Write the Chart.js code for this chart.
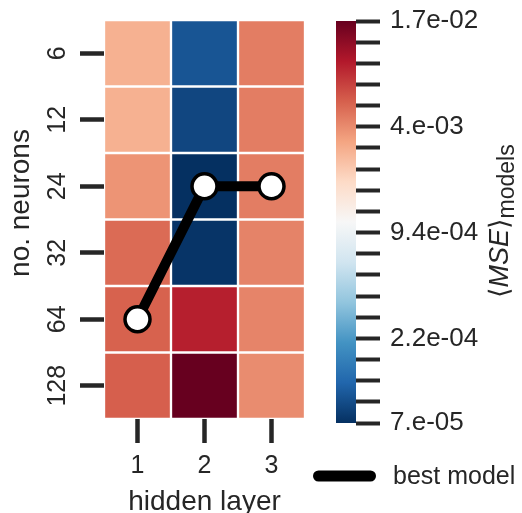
<!DOCTYPE html>
<html>
<head>
<meta charset="utf-8">
<script src="https://cdn.jsdelivr.net/npm/chart.js@4.4.1/dist/chart.umd.min.js"></script>
<style>
  html, body { margin: 0; padding: 0; background: #fff; }
  #wrap { position: relative; width: 522px; height: 513px; overflow: hidden; }
  #heat { position: absolute; left: 0; top: 0; }
  #cbar { position: absolute; left: 305px; top: 0; }
</style>
</head>
<body>
<div id="wrap">
  <canvas id="heat" width="305" height="513"></canvas>
  <canvas id="cbar" width="217" height="513"></canvas>
</div>
<script>
// ─── Data ─────────────────────────────────────────────────────────────────────

const layers = ["1", "2", "3"];
const neurons = ["6", "12", "24", "32", "64", "128"];

// <MSE> over models, one array per hidden-layer count, rows follow `neurons`
const mseLayer1 = [2.9e-3, 2.9e-3, 3.75e-3, 5.2e-3, 5.6e-3, 5.7e-3];
const mseLayer2 = [1.02e-4, 8.8e-5, 7.0e-5, 7.3e-5, 9.3e-3, 1.7e-2];
const mseLayer3 = [4.5e-3, 4.5e-3, 4.5e-3, 4.3e-3, 4.25e-3, 4.0e-3];

// best model: neuron count chosen for each hidden-layer count
const bestNeurons = ["64", "24", "24"];

const cbarMin = 7e-5;
const cbarMax = 1.7e-2;
// colorbar tick labels, bottom to top (20 ticks, log spaced)
const cbarTickLabels = [
  "7.e-05", "", "", "", "2.2e-04", "", "", "", "", "9.4e-04",
  "", "", "", "", "4.e-03", "", "", "", "", "1.7e-02",
];

// ─── Style ────────────────────────────────────────────────────────────────────

const FONT = "'Liberation Sans', Arial, 'DejaVu Sans', sans-serif";
const INK = "#262626";

// matplotlib RdBu_r anchor colours
const RDBU_R = [
  "#053061", "#2166ac", "#4393c3", "#92c5de", "#d1e5f0", "#f7f7f7",
  "#fddbc7", "#f4a582", "#d6604d", "#b2182b", "#67001f",
];

function hexToRgb(h) {
  return [1, 3, 5].map(i => parseInt(h.slice(i, i + 2), 16));
}

function cmap(f) {
  f = Math.max(0, Math.min(1, f));
  const p = f * 10;
  const i = Math.min(9, Math.floor(p));
  const t = p - i;
  const a = hexToRgb(RDBU_R[i]);
  const b = hexToRgb(RDBU_R[i + 1]);
  const c = a.map((v, k) => Math.round(v + (b[k] - v) * t));
  return `rgb(${c[0]}, ${c[1]}, ${c[2]})`;
}

function colorFor(v) {
  const lo = Math.log10(cbarMin), hi = Math.log10(cbarMax);
  return cmap((Math.log10(v) - lo) / (hi - lo));
}

// ─── Heatmap ──────────────────────────────────────────────────────────────────

const mse = [mseLayer1, mseLayer2, mseLayer3];

const rowSets = neurons.map((n, i) => ({
  type: "bar",
  label: n,
  data: layers.map(() => [i, i + 1]),
  backgroundColor: mse.map(col => colorFor(col[i])),
  borderColor: "#ffffff",
  borderWidth: 1.5,
  borderSkipped: false,
  grouped: false,
  barPercentage: 1,
  categoryPercentage: 1,
  order: 2,
}));

const bestLine = {
  type: "line",
  label: "best model",
  data: bestNeurons.map(n => neurons.indexOf(n) + 0.5),
  borderColor: "#000000",
  borderWidth: 10,
  pointRadius: 12.5,
  pointBackgroundColor: "#ffffff",
  pointBorderColor: "#000000",
  pointBorderWidth: 3.5,
  tension: 0,
  clip: false,
  order: 1,
};

const tickGrid = {
  display: true,
  drawOnChartArea: false,
  drawTicks: true,
  offset: false,
  tickLength: 24,
  tickWidth: 4.5,
  tickColor: INK,
};

// y title drawn by hand so it can sit where the reference has it
const yTitle = {
  id: "yTitle",
  afterDraw(chart) {
    const { ctx } = chart;
    ctx.save();
    ctx.translate(21, 203);
    ctx.rotate(-Math.PI / 2);
    ctx.font = `28px ${FONT}`;
    ctx.fillStyle = INK;
    ctx.textAlign = "center";
    ctx.textBaseline = "middle";
    ctx.fillText("no. neurons", 0, 0);
    ctx.restore();
  },
};

new Chart(document.getElementById("heat"), {
  type: "bar",
  data: { labels: layers, datasets: [...rowSets, bestLine] },
  options: {
    responsive: false,
    animation: false,
    layout: { autoPadding: false, padding: { top: 20, right: 0, left: 0, bottom: 0 } },
    plugins: { legend: { display: false }, tooltip: { enabled: false } },
    scales: {
      x: {
        type: "category",
        offset: true,
        grid: tickGrid,
        border: { display: false },
        ticks: { color: INK, font: { family: FONT, size: 25 }, padding: 8 },
        title: {
          display: true,
          text: "hidden layer",
          color: INK,
          font: { family: FONT, size: 28, lineHeight: 1 },
          padding: { top: 0, bottom: -3 },
        },
        afterFit: s => {
          s.height = 94;
          s.paddingLeft = 0;
          s.paddingRight = 0;
        },
      },
      y: {
        type: "linear",
        min: 0,
        max: 6,
        reverse: true,
        afterBuildTicks: s => { s.ticks = neurons.map((_, i) => ({ value: i + 0.5 })); },
        grid: tickGrid,
        border: { display: false },
        ticks: {
          callback: (v, i) => neurons[i],
          minRotation: 90,
          maxRotation: 90,
          crossAlign: "center",
          autoSkip: false,
          color: INK,
          font: { family: FONT, size: 25 },
          padding: 1,
        },
        afterFit: s => {
          s.width = 104;
          s.paddingTop = 0;
          s.paddingBottom = 0;
        },
      },
    },
  },
  plugins: [yTitle],
});

// ─── Colorbar + legend ────────────────────────────────────────────────────────

const cbarTitle = {
  id: "cbarTitle",
  afterDraw(chart) {
    const { ctx } = chart;
    ctx.save();
    ctx.translate(508 - 305, 298);
    ctx.rotate(-Math.PI / 2);
    ctx.fillStyle = INK;
    ctx.textBaseline = "alphabetic";
    ctx.textAlign = "left";
    let x = 0;
    const part = (txt, font, dy) => {
      ctx.font = font;
      ctx.fillText(txt, x, dy);
      x += ctx.measureText(txt).width;
    };
    part("\u27e8", `27px ${FONT}`, 0);
    part("MSE", `italic 27px ${FONT}`, 0);
    part("\u27e9", `27px ${FONT}`, 0);
    part("models", `23px ${FONT}`, 6);
    ctx.restore();
  },
};

const bestLegend = {
  id: "bestLegend",
  afterDraw(chart) {
    const { ctx } = chart;
    ctx.save();
    ctx.strokeStyle = "#000000";
    ctx.lineWidth = 11;
    ctx.lineCap = "round";
    ctx.beginPath();
    ctx.moveTo(313 - 305 + 5.5, 476);
    ctx.lineTo(376 - 305 - 5.5, 476);
    ctx.stroke();
    ctx.font = `25px ${FONT}`;
    ctx.fillStyle = INK;
    ctx.textBaseline = "middle";
    ctx.fillText("best model", 393 - 305, 477);
    ctx.restore();
  },
};

new Chart(document.getElementById("cbar"), {
  type: "bar",
  data: {
    labels: ["mse"],
    datasets: [{
      data: [[cbarMin, cbarMax]],
      backgroundColor: ctx => {
        const area = ctx.chart.chartArea;
        if (!area) return RDBU_R[5];
        const g = ctx.chart.ctx.createLinearGradient(0, area.bottom, 0, area.top);
        RDBU_R.forEach((c, k) => g.addColorStop(k / 10, c));
        return g;
      },
      borderWidth: 0,
      barPercentage: 1,
      categoryPercentage: 1,
    }],
  },
  options: {
    responsive: false,
    animation: false,
    layout: { autoPadding: false, padding: { top: 21, left: 31, bottom: 90, right: 0 } },
    plugins: { legend: { display: false }, tooltip: { enabled: false } },
    scales: {
      x: { type: "category", offset: true, display: false },
      y: {
        type: "logarithmic",
        position: "right",
        min: cbarMin,
        max: cbarMax,
        afterBuildTicks: s => {
          const n = cbarTickLabels.length;
          s.ticks = cbarTickLabels.map((_, k) => ({
            value: cbarMin * Math.pow(cbarMax / cbarMin, k / (n - 1)),
          }));
        },
        grid: { ...tickGrid, tickWidth: 4 },
        border: { display: false },
        ticks: {
          callback: (v, i) => cbarTickLabels[i],
          autoSkip: false,
          color: INK,
          font: { family: FONT, size: 26 },
          padding: 10,
        },
        afterFit: s => {
          s.width = 217 - 51;
          s.paddingTop = 0;
          s.paddingBottom = 0;
        },
      },
    },
  },
  plugins: [cbarTitle, bestLegend],
});
</script>
</body>
</html>
